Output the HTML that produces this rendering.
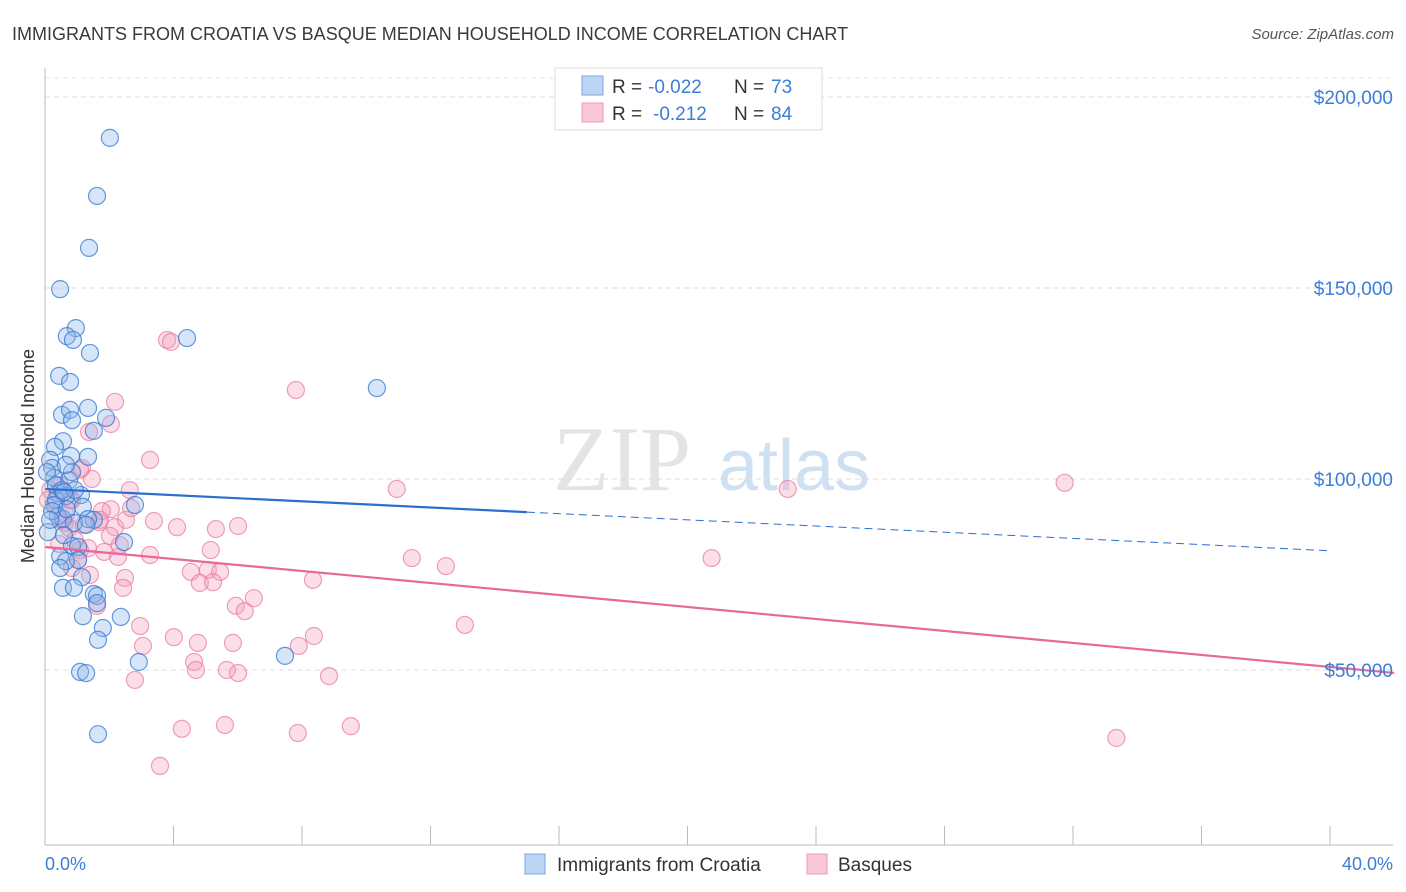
<!DOCTYPE html>
<html><head><meta charset="utf-8"><style>
body{margin:0;background:#fff;font-family:"Liberation Sans",sans-serif;}
svg{display:block}
</style></head><body>
<svg id="chart" width="1406" height="892" xmlns="http://www.w3.org/2000/svg">
<text x="12" y="40" font-size="18" fill="#3a3a3a">IMMIGRANTS FROM CROATIA VS BASQUE MEDIAN HOUSEHOLD INCOME CORRELATION CHART</text>
<text x="1394" y="39" font-size="15" fill="#555" text-anchor="end" font-style="italic">Source: ZipAtlas.com</text>
<text x="553" y="490" font-size="92" fill="#e4e4e4" font-family="Liberation Serif">ZIP</text>
<text x="718" y="490" font-size="72" fill="#cfe0f3">atlas</text>
<g id="grid"></g>
<g id="pts"></g>
<g id="lines"></g>
<g id="axes"></g>
<text transform="translate(34,456) rotate(-90)" font-size="18" fill="#333" text-anchor="middle">Median Household Income</text>
<text x="45" y="870" font-size="18" fill="#3b7dd8">0.0%</text>
<text x="1393" y="870" font-size="18" fill="#3b7dd8" text-anchor="end">40.0%</text>
<g>
<rect x="555" y="68" width="267" height="62" fill="#fff" stroke="#ddd"/>
<rect x="582" y="76" width="21" height="19" fill="#bcd5f5" stroke="#7aa7e0"/>
<rect x="582" y="103" width="21" height="19" fill="#f9c8d7" stroke="#ec9ab5"/>
<text x="612" y="93" font-size="19" fill="#333">R =</text>
<text x="648" y="93" font-size="19" fill="#3b7dd8">-0.022</text>
<text x="734" y="93" font-size="19" fill="#333">N =</text>
<text x="771" y="93" font-size="19" fill="#3b7dd8">73</text>
<text x="612" y="120" font-size="19" fill="#333">R =</text>
<text x="653" y="120" font-size="19" fill="#3b7dd8">-0.212</text>
<text x="734" y="120" font-size="19" fill="#333">N =</text>
<text x="771" y="120" font-size="19" fill="#3b7dd8">84</text>
</g>
<g>
<rect x="525" y="854" width="20" height="20" fill="#bcd5f5" stroke="#7aa7e0"/>
<text x="557" y="871" font-size="19" fill="#333">Immigrants from Croatia</text>
<rect x="807" y="854" width="20" height="20" fill="#f9c8d7" stroke="#ec9ab5"/>
<text x="838" y="871" font-size="19" fill="#333">Basques</text>
</g>
</svg>
<script>
const yTicks=[50000,100000,150000,200000];
const yTickLabels=["$50,000","$100,000","$150,000","$200,000"];
const xTicks=[0,4,8,12,16,20,24,28,32,36,40];
const blueX=[2.02,1.62,1.37,0.47,0.96,0.68,0.87,1.40,0.44,0.78,4.42,10.33,0.53,0.78,1.34,1.90,0.84,0.56,1.52,0.31,0.16,0.81,1.34,0.22,0.28,0.75,0.06,0.40,1.12,0.65,0.34,0.28,1.18,1.52,0.40,0.56,1.34,2.80,0.09,2.46,0.84,0.47,1.03,1.03,0.65,1.15,0.56,0.90,1.52,1.62,1.62,1.18,2.36,1.80,1.65,2.92,1.09,1.28,7.47,1.65,0.47,0.34,0.53,0.22,0.16,0.90,1.28,0.59,0.68,0.93,0.84,0.65,0.59];
const blueY=[189.3,174.1,160.5,149.7,139.5,137.4,136.4,133.0,127.0,125.4,136.9,123.8,116.8,118.1,118.6,116.0,115.4,109.9,112.6,108.4,105.0,106.0,105.8,102.9,100.3,99.7,101.8,96.3,95.8,95.5,94.5,93.2,92.7,89.3,90.3,89.5,89.5,93.2,86.1,83.5,82.5,79.8,82.2,78.8,78.5,74.3,71.5,71.5,69.9,69.4,67.5,64.1,63.9,61.0,57.9,52.1,49.5,49.2,53.7,33.2,76.7,98.4,97.1,91.6,89.3,88.5,88.0,85.3,92.1,97.1,101.8,103.7,96.6];
const pinkX=[3.80,3.92,7.81,2.18,2.05,1.37,3.27,1.15,1.46,0.47,10.95,23.12,31.74,2.05,0.84,3.39,4.11,5.32,6.01,0.62,0.75,2.18,1.68,2.52,2.68,1.77,0.44,1.34,1.84,1.09,2.27,3.27,5.16,11.42,12.48,20.75,1.03,0.84,2.49,4.54,5.07,5.45,4.82,5.23,8.34,2.43,1.62,5.94,6.22,6.50,2.96,13.07,3.05,4.01,4.76,5.85,7.90,8.37,4.64,4.70,5.66,6.01,8.84,2.80,4.26,5.60,7.87,9.52,3.58,33.35,0.34,0.65,0.16,0.47,1.21,2.02,0.78,2.64,2.33,1.71,0.09,0.93,1.40,1.09];
const pinkY=[136.4,135.9,123.3,120.2,114.4,112.3,105.0,102.9,100.0,98.4,97.4,97.4,99.0,92.1,94.5,89.0,87.4,86.9,87.7,88.5,87.2,87.4,88.7,89.3,92.4,91.6,83.0,81.9,80.9,81.4,79.6,80.1,81.4,79.3,77.2,79.3,78.8,76.7,74.1,75.7,76.2,75.7,72.8,73.0,73.6,71.5,66.8,66.8,65.4,68.8,61.5,61.8,56.3,58.6,57.1,57.1,56.3,58.9,52.1,50.0,50.0,49.2,48.4,47.4,34.6,35.6,33.5,35.3,24.9,32.2,93.2,90.6,97.1,89.3,88.0,85.1,94.5,97.1,82.7,89.3,94.5,84.0,74.9,102.4];
const trendBlue=[97.4,81.2];
const trendPink=[82.2,50.8];
const blueSolidEnd=15;
const NS="http://www.w3.org/2000/svg";
const X=p=>45+p*(1330-45)/40;
const Y=v=>479-(v-100000)*191/50000;
function mk(tag,attrs,parent){const e=document.createElementNS(NS,tag);for(const k in attrs)e.setAttribute(k,attrs[k]);parent.appendChild(e);return e;}
const grid=document.getElementById('grid'),axes=document.getElementById('axes');
yTicks.forEach((t,i)=>{
 const l=mk('line',{x1:45,x2:1393,y1:Y(t),y2:Y(t),stroke:'#ddd','stroke-dasharray':'5,4'},grid);
 
 
 const tx=mk('text',{x:1393,y:Y(t)+7,'font-size':19,fill:'#3b7dd8','text-anchor':'end'},axes);
 tx.textContent=yTickLabels[i];
 
 
});
const topGrid=mk('line',{x1:45,x2:1393,y1:78,y2:78,stroke:'#e6e6e6','stroke-dasharray':'5,4'},grid);


const ya=mk('line',{x1:45,x2:45,y1:68,y2:845,stroke:'#bbb'},axes);


const xa=mk('line',{x1:45,x2:1393,y1:845,y2:845,stroke:'#bbb'},axes);


xTicks.forEach(t=>{
 const l=mk('line',{x1:X(t),x2:X(t),y1:826,y2:845,stroke:'#bbb'},axes);
 
 
});
const pts=document.getElementById('pts');
pinkX.forEach((x,i)=>{
 const c=mk('circle',{cx:X(x),cy:Y(pinkY[i]*1000),r:8.5,fill:'rgba(244,160,188,0.35)',stroke:'rgba(232,120,160,0.7)','stroke-width':1.2},pts);
 
 
});
blueX.forEach((x,i)=>{
 const c=mk('circle',{cx:X(x),cy:Y(blueY[i]*1000),r:8.5,fill:'rgba(140,180,235,0.35)',stroke:'rgba(50,120,210,0.75)','stroke-width':1.2},pts);
 
 
});
const lines=document.getElementById('lines');
const tv=(t,p)=>t[0]+(t[1]-t[0])*p/40;
const b1=mk('line',{x1:X(0),y1:Y(tv(trendBlue,0)*1000),x2:X(blueSolidEnd),y2:Y(tv(trendBlue,blueSolidEnd)*1000),stroke:'#2a6fd0','stroke-width':2.2},lines);


const b2=mk('line',{x1:X(blueSolidEnd),y1:Y(tv(trendBlue,blueSolidEnd)*1000),x2:X(40),y2:Y(tv(trendBlue,40)*1000),stroke:'#2a6fd0','stroke-width':1,'stroke-dasharray':'8,5'},lines);


const p1=mk('line',{x1:X(0),y1:Y(tv(trendPink,0)*1000),x2:X(42),y2:Y(tv(trendPink,42)*1000),stroke:'#e8689a','stroke-width':2.2},lines);


</script>
</body></html>
